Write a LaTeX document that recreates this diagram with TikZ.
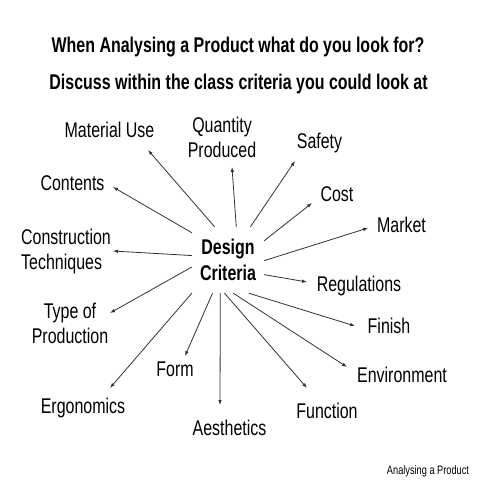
\documentclass[tikz,border=0pt]{standalone}
\usepackage{fontspec}
\setmainfont[FakeStretch=0.75]{Liberation Sans}
\usetikzlibrary{arrows.meta}
\begin{document}
\begin{tikzpicture}[x=1pt,y=-1pt,
  lab/.style={font=\fontsize{21.3}{25}\selectfont, inner sep=0pt, anchor=north, align=center},
  ttl/.style={font=\bfseries\fontsize{21.3}{25}\selectfont, inner sep=0pt, anchor=north},
  hub/.style={font=\bfseries\fontsize{21.3}{25.5}\selectfont, inner sep=0pt, minimum width=72pt, minimum height=66pt, align=center},
  arr/.style={draw=black!80, line width=0.8pt, -{Latex[length=5pt,width=3.6pt]}}]
\useasboundingbox (0,0) rectangle (480,480);
\fill[white] (0,0) rectangle (480,480);
% titles
\node[ttl] (t1) at (238,37) {When Analysing a Product what do you look for?};
\node[ttl] (t2) at (238.5,74) {Discuss within the class criteria you could look at};
% hub
\node[hub] (dc) at (228,260) {Design\\Criteria};
% labels
\node[lab] (mat) at (109.5,122) {Material Use};
\node[lab] (qua) at (222,117) {Quantity\\Produced};
\node[lab] (saf) at (319.5,133) {Safety};
\node[lab] (cos) at (337,186) {Cost};
\node[lab] (mar) at (401.5,217) {Market};
\node[lab] (reg) at (359,276) {Regulations};
\node[lab] (fin) at (389,318) {Finish};
\node[lab] (env) at (402,367) {Environment};
\node[lab] (fun) at (327,403) {Function};
\node[lab] (aes) at (229.5,420) {Aesthetics};
\node[lab] (frm) at (175,362) {Form};
\node[lab] (erg) at (83,398) {Ergonomics};
\node[lab] (typ) at (70,303) {Type of\\Production};
\node[lab, anchor=north west, align=left] (con) at (21,229) {Construction\\Techniques};
\node[lab] (cnt) at (72.5,175) {Contents};
\node[font=\fontsize{12.3}{14}\selectfont, inner sep=0pt, anchor=north] (ft) at (428,465) {Analysing a Product};
% arrow tips
\coordinate (tMat) at (148,150);
\coordinate (tQua) at (232,167);
\coordinate (tSaf) at (295,161);
\coordinate (tCos) at (312,203);
\coordinate (tMar) at (368,228);
\coordinate (tReg) at (307,282);
\coordinate (tFin) at (355,326);
\coordinate (tEnv) at (347,367);
\coordinate (tFun) at (307,388);
\coordinate (tAes) at (220,405);
\coordinate (tFrm) at (185,356);
\coordinate (tErg) at (110,388);
\coordinate (tTyp) at (110,313);
\coordinate (tCon) at (113,251);
\coordinate (tCnt) at (113,187);
% connectors
\draw[arr] (dc.112.1) -- (tMat);
\draw[arr] (dc.76) -- (tQua);
\draw[arr] (dc.56.7) -- (tSaf);
\draw[arr] (dc.28) -- (tCos);
\draw[arr] (dc.-1.5) -- (tMar);
\draw[arr] (dc.-22) -- (tReg);
\draw[arr] (dc.-58.7) -- (tFin);
\draw[arr] (dc.-81.9) -- (tEnv);
\draw[arr] (dc.-96.9) -- (tFun);
\draw[arr] (dc.-103.6) -- (tAes);
\draw[arr] (dc.-115.9) -- (tFrm);
\draw[arr] (dc.south west) -- (tErg);
\draw[arr] (dc.-169) -- (tTyp);
\draw[arr] (dc.173.7) -- (tCon);
\draw[arr] (dc.143.1) -- (tCnt);
\end{tikzpicture}
\end{document}
